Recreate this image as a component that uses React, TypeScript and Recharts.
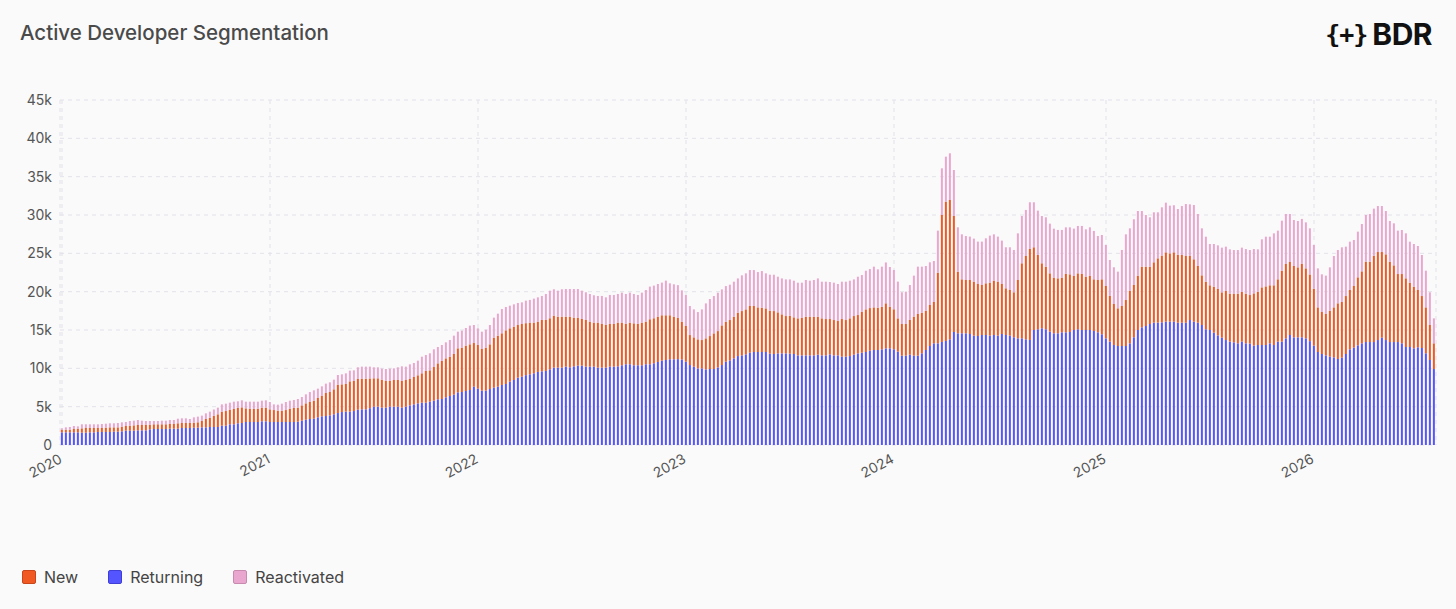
import React from "react";
import { BarChart, Bar, XAxis, YAxis, CartesianGrid } from "recharts";

// weekly active developers, Jan 2020 -> mid 2026
const returning = [
  1650, 1650, 1650, 1650, 1650, 1610, 1610, 1650, 1650, 1700,
  1700, 1700, 1700, 1740, 1740, 1780, 1870, 1870, 1870, 1910,
  1910, 1910, 2040, 2090, 2090, 2090, 2090, 2130, 2130, 2130,
  2220, 2220, 2220, 2260, 2260, 2300, 2300, 2350, 2350, 2350,
  2520, 2520, 2700, 2700, 2830, 2870, 3000, 3000, 3000, 3000,
  3090, 3090, 3000, 3000, 3000, 3000, 3000, 3000, 3000, 3040,
  3170, 3300, 3390, 3430, 3610, 3740, 3780, 3870, 4000, 4170,
  4300, 4350, 4350, 4430, 4610, 4650, 4650, 4800, 5000, 5000,
  4870, 4870, 5000, 5000, 5000, 4870, 5000, 5170, 5300, 5430,
  5520, 5520, 5650, 5780, 5960, 6000, 6220, 6390, 6570, 6870,
  6910, 7040, 7170, 7610, 7350, 7090, 7090, 7300, 7480, 7610,
  7830, 7960, 8260, 8480, 8780, 8910, 9110, 9220, 9350, 9530,
  9610, 9660, 9870, 10090, 10090, 10090, 10220, 10130, 10260, 10350,
  10350, 10220, 10220, 10220, 10090, 10090, 10090, 10220, 10220, 10260,
  10400, 10530, 10530, 10400, 10400, 10400, 10530, 10530, 10660, 10830,
  11000, 11090, 11180, 11180, 11200, 11150, 10860, 10430, 10210, 9990,
  9990, 9860, 9910, 9910, 10120, 10430, 10860, 11040, 11300, 11600,
  11690, 11820, 12040, 12130, 12130, 12130, 12130, 11910, 11870, 11950,
  11950, 11950, 11910, 11870, 11690, 11690, 11690, 11690, 11690, 11780,
  11690, 11690, 11820, 11690, 11690, 11520, 11520, 11600, 11780, 11950,
  12040, 12130, 12300, 12390, 12390, 12480, 12600, 12600, 12480, 12180,
  11650, 11650, 11780, 11650, 11650, 11960, 12390, 12910, 13260, 13260,
  13440, 13570, 13780, 14740, 14570, 14570, 14570, 14480, 14260, 14220,
  14350, 14350, 14260, 14350, 14260, 14480, 14350, 14260, 14050, 13910,
  13910, 13780, 13700, 15000, 15090, 15220, 15090, 14780, 14570, 14570,
  14700, 14700, 14740, 15000, 15090, 15000, 15000, 15000, 14870, 14700,
  14440, 13910, 13480, 13050, 12910, 12910, 12910, 13260, 14050, 15000,
  15350, 15520, 15780, 15960, 15960, 16000, 16090, 16090, 16080, 15950,
  15950, 15950, 16300, 16080, 15950, 15650, 15090, 15000, 14650, 14300,
  14000, 13690, 13480, 13390, 13260, 13480, 13260, 13220, 12960, 13040,
  13040, 13040, 13260, 13040, 13480, 13480, 13910, 14350, 14040, 14040,
  14040, 13910, 13550, 12960, 12130, 11870, 11690, 11520, 11430, 11220,
  11390, 11870, 12480, 12700, 13000, 13260, 13430, 13430, 13430, 13690,
  14000, 13690, 13430, 13430, 13430, 13260, 12780, 12780, 12610, 12740,
  12650, 11960, 11090, 9910,
];

const newDevs = [
  350, 350, 350, 440, 480, 560, 610, 570, 570, 520,
  520, 560, 600, 560, 560, 610, 610, 650, 690, 700,
  700, 740, 610, 610, 610, 610, 610, 610, 610, 700,
  650, 650, 650, 650, 700, 830, 1090, 1210, 1450, 1650,
  1830, 1910, 1910, 2000, 2000, 2040, 1780, 1740, 1700, 1740,
  1780, 1780, 1650, 1560, 1480, 1480, 1560, 1740, 1830, 1830,
  2000, 2130, 2220, 2350, 2520, 2700, 3000, 3040, 3260, 3700,
  3610, 3610, 3950, 3920, 4000, 4000, 4000, 3880, 3700, 3700,
  3650, 3480, 3350, 3480, 3480, 3480, 3480, 3440, 3570, 3660,
  3830, 4130, 4090, 4390, 4690, 4960, 5080, 5130, 5300, 5740,
  5790, 5920, 5960, 5690, 5690, 5430, 5610, 5830, 6520, 6650,
  6740, 7000, 6960, 6950, 6870, 6870, 6780, 6740, 6610, 6560,
  6700, 6650, 6660, 6780, 6650, 6650, 6520, 6610, 6350, 6260,
  6090, 6090, 5870, 5740, 5870, 5700, 5570, 5570, 5570, 5700,
  5560, 5260, 5430, 5470, 5390, 5560, 5560, 5870, 5870, 5910,
  5920, 5830, 5740, 5560, 5370, 4940, 4660, 3910, 3830, 3790,
  3700, 4050, 4300, 4650, 4740, 5170, 5220, 5260, 5430, 5660,
  5780, 5870, 6090, 6000, 5820, 5780, 5690, 5610, 5600, 5350,
  5090, 4870, 4950, 4780, 4830, 4910, 5040, 5040, 5040, 4950,
  4830, 4740, 4610, 4610, 4480, 4910, 4780, 4920, 5040, 5000,
  5350, 5560, 5560, 5560, 5520, 5540, 5880, 5440, 5220, 4340,
  4130, 4130, 4530, 5090, 5440, 5300, 5130, 5350, 5390, 9220,
  16560, 18170, 18180, 15130, 8040, 7040, 6950, 7040, 7050, 6780,
  6520, 6740, 6920, 7090, 7050, 6520, 6090, 5960, 5870, 7610,
  9790, 10870, 11870, 10790, 9690, 8480, 8170, 7610, 7260, 7170,
  7130, 7610, 7520, 7050, 7300, 7310, 6960, 7050, 6740, 6820,
  7170, 6830, 5960, 5340, 4920, 5220, 6000, 6870, 6820, 7090,
  7910, 7740, 7480, 7870, 8390, 8700, 9040, 8910, 9050, 8870,
  8830, 8700, 8350, 8140, 7400, 6480, 6210, 5830, 6000, 6050,
  5910, 6400, 6260, 6350, 6480, 6480, 6480, 6340, 6820, 6960,
  7520, 7650, 7570, 7790, 8130, 9260, 9700, 9520, 9310, 9130,
  9610, 9130, 8690, 7430, 5820, 5480, 5400, 6000, 6520, 7260,
  7260, 7560, 7740, 8040, 8870, 9390, 10480, 10480, 11260, 11480,
  11170, 11180, 10480, 10000, 8870, 9040, 8960, 8390, 8040, 7480,
  6780, 5990, 4560, 3350,
];

const reactivated = [
  170, 300, 350, 390, 300, 530, 480, 480, 480, 480,
  520, 520, 530, 530, 570, 570, 520, 610, 610, 650,
  560, 480, 480, 430, 430, 470, 470, 520, 520, 600,
  610, 610, 520, 700, 740, 700, 740, 790, 830, 870,
  950, 960, 910, 950, 870, 920, 870, 910, 950, 910,
  910, 960, 960, 740, 780, 910, 1050, 1040, 1040, 1130,
  1090, 1180, 1300, 1350, 1220, 1210, 1220, 1260, 1260, 1260,
  1310, 1390, 1400, 1390, 1520, 1570, 1570, 1540, 1430, 1430,
  1440, 1560, 1610, 1520, 1650, 1910, 1740, 1910, 1830, 1910,
  2170, 2090, 2220, 2310, 2130, 2080, 2090, 2180, 2390, 2170,
  2210, 2300, 2440, 2350, 2180, 2260, 2340, 2520, 2610, 2870,
  3170, 3040, 2950, 2920, 2870, 2830, 2940, 2960, 3130, 3170,
  3130, 3390, 3600, 3440, 3390, 3570, 3610, 3610, 3740, 3740,
  3690, 3610, 3610, 3570, 3480, 3650, 3600, 3780, 3780, 3740,
  3910, 3910, 3910, 3830, 3780, 3910, 4130, 4260, 4260, 4260,
  4260, 4520, 4170, 4220, 4280, 4080, 4040, 3790, 3650, 3560,
  4000, 4560, 4830, 4870, 5000, 4700, 4650, 4610, 4570, 4470,
  4660, 4700, 4690, 4690, 4610, 4780, 4570, 4690, 4740, 4650,
  4690, 4780, 4740, 4780, 4650, 4570, 4790, 4700, 4790, 5000,
  4780, 4870, 4830, 4870, 4830, 4870, 5000, 4910, 4780, 5000,
  4780, 5040, 5090, 5310, 5000, 5240, 5330, 5180, 5130, 4790,
  4140, 4220, 4560, 5350, 6170, 6000, 5830, 5570, 5350, 5480,
  6090, 5870, 6090, 6000, 5780, 5870, 5740, 5660, 5610, 5530,
  5660, 5870, 6130, 6040, 5870, 5660, 5350, 5570, 5520, 6090,
  6170, 6010, 6090, 5870, 5790, 6170, 6440, 6480, 6390, 6310,
  6220, 6080, 6130, 6170, 6180, 6260, 6170, 6340, 6310, 5740,
  5780, 5350, 4690, 4790, 4780, 7310, 8570, 8130, 8570, 8430,
  7260, 6740, 6440, 6520, 6000, 6300, 6480, 6220, 6140, 5960,
  6390, 6780, 6740, 7080, 6780, 6130, 5870, 5390, 5570, 5690,
  5830, 5780, 5780, 5690, 5690, 5780, 5820, 5870, 5780, 5520,
  6270, 6480, 6340, 6780, 6350, 6520, 6520, 6260, 6000, 6050,
  5840, 6000, 6020, 5700, 5090, 4910, 5000, 5650, 6700, 6950,
  7130, 6440, 6300, 6000, 5960, 6180, 6090, 6220, 6140, 6000,
  6000, 5650, 5310, 5480, 5660, 5740, 5870, 5350, 5570, 5740,
  5350, 4790, 4260, 3260,
];

// week index where each year starts
const yearTicks = [0, 52, 104, 156, 208, 261, 313];
const yearLabels = ["2020", "2021", "2022", "2023", "2024", "2025", "2026"];
const yTicks = [0, 5000, 10000, 15000, 20000, 25000, 30000, 35000, 40000, 45000];

const COLORS = {
  new: "#F05A22",
  returning: "#5555FF",
  reactivated: "#E9A6CE",
};

const data = returning.map((r, i) => ({
  week: i,
  returning: r,
  new: newDevs[i],
  reactivated: reactivated[i],
}));

const FONT = "Inter, 'Noto Sans', sans-serif";

const YearTick = (props: any) => {
  const { x, y, payload } = props;
  const label = yearLabels[yearTicks.indexOf(payload.value)];
  const ty = y + 9;
  return (
    <text
      x={x + 1}
      y={ty}
      textAnchor="end"
      fill="#555"
      fontSize={14}
      fontFamily={FONT}
      transform={`rotate(-28, ${x + 1}, ${ty})`}
    >
      {label}
    </text>
  );
};

const legendItems = [
  { name: "New", color: COLORS.new, border: "#C9461A" },
  { name: "Returning", color: COLORS.returning, border: "#3F3FD6" },
  { name: "Reactivated", color: COLORS.reactivated, border: "#C98AB0" },
];

export default function App() {
  return (
    <div
      style={{
        position: "absolute",
        left: 0,
        top: 0,
        width: 1456,
        height: 609,
        background: "#FAFAFA",
        fontFamily: FONT,
        overflow: "hidden",
      }}
    >
      <div style={{ position: "absolute", left: 0, top: 0 }}>
        <BarChart
          width={1456}
          height={500}
          data={data}
          margin={{ top: 100, right: 20, bottom: 0, left: 0 }}
          barCategoryGap="22%"
        >
          <CartesianGrid strokeDasharray="4 4" stroke="#E2E2EA" />
          <XAxis
            dataKey="week"
            ticks={yearTicks}
            interval={0}
            tickLine={false}
            axisLine={false}
            height={55}
            tick={<YearTick />}
          />
          <YAxis
            domain={[0, 45000]}
            ticks={yTicks}
            width={60}
            axisLine={false}
            tickLine={false}
            tick={{ fill: "#555", fontSize: 14, fontFamily: FONT }}
            tickFormatter={(v: number) => (v === 0 ? "0" : `${v / 1000}k`)}
          />
          <Bar dataKey="returning" stackId="a" fill={COLORS.returning} isAnimationActive={false} />
          <Bar dataKey="new" stackId="a" fill={COLORS.new} isAnimationActive={false} />
          <Bar dataKey="reactivated" stackId="a" fill={COLORS.reactivated} isAnimationActive={false} />
        </BarChart>
      </div>

      <div
        style={{
          position: "absolute",
          left: 20,
          top: 22,
          fontSize: 20.5,
          lineHeight: "22px",
          fontWeight: 500,
          color: "#4A4A4A",
        }}
      >
        Active Developer Segmentation
      </div>

      <div
        style={{
          position: "absolute",
          right: 24,
          top: 16,
          display: "flex",
          alignItems: "center",
          color: "#111",
        }}
      >
        <span
          style={{
            fontFamily: "'DejaVu Sans Mono', monospace",
            fontWeight: 700,
            fontSize: 25,
            letterSpacing: -1,
            marginRight: 5,
          }}
        >
          {"{+}"}
        </span>
        <span style={{ fontSize: 30, fontWeight: 700, letterSpacing: -0.5 }}>BDR</span>
      </div>

      <div
        style={{
          position: "absolute",
          left: 22,
          top: 567,
          display: "flex",
          alignItems: "center",
          fontSize: 16,
          color: "#444",
        }}
      >
        {legendItems.map((it) => (
          <div key={it.name} style={{ display: "flex", alignItems: "center", marginRight: 30 }}>
            <span
              style={{
                width: 14,
                height: 14,
                boxSizing: "border-box",
                background: it.color,
                border: `1px solid ${it.border}`,
                borderRadius: 2,
                marginRight: 8,
              }}
            />
            <span>{it.name}</span>
          </div>
        ))}
      </div>
    </div>
  );
}
